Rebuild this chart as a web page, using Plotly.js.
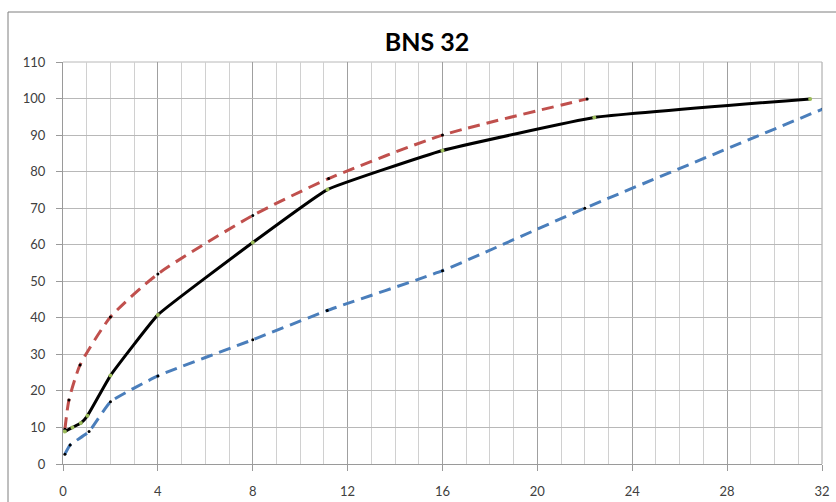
<!DOCTYPE html>
<html>
<head>
<meta charset="utf-8">
<script src="https://cdn.plot.ly/plotly-3.0.1.min.js"></script>
<style>
html,body{margin:0;padding:0;background:#fff;}
#chart{width:836px;height:502px;}
</style>
</head>
<body>
<div id="chart"></div>
<script>
// Black solid series
const blackX = [0.08, 0.4, 0.75, 1.03, 2.0, 4.0, 8.0, 11.15, 16.0, 22.4, 31.5];
const blackY = [8.9, 10.0, 11.2, 13.2, 24.2, 40.8, 60.6, 75.1, 85.8, 94.8, 99.9];
// Red dashed series
const redX = [0.08, 0.25, 0.72, 2.0, 4.0, 8.0, 11.2, 16.0, 22.1];
const redY = [9.5, 17.5, 27.1, 40.2, 52.0, 68.0, 78.1, 90.0, 99.9];
// Blue dashed series
const blueX = [0.08, 0.3, 1.1, 2.0, 4.0, 8.0, 11.14, 16.0, 22.0, 32.05];
const blueY = [2.7, 5.2, 8.9, 17.0, 24.1, 34.0, 42.0, 52.9, 70.0, 97.2];

const titleText = 'BNS 32';
const xTicks = [0, 4, 8, 12, 16, 20, 24, 28, 32];
const yTicks = [0, 10, 20, 30, 40, 50, 60, 70, 80, 90, 100, 110];

const font = 'Lato, "Open Sans", sans-serif';

const traces = [
  {x: redX, y: redY, mode: 'lines+markers', line: {color: '#C0504D', width: 3, dash: '12px,7px', shape: 'spline', smoothing: 0.6},
   marker: {color: '#000', size: 3}, hoverinfo: 'skip'},
  {x: blueX, y: blueY, mode: 'lines+markers', line: {color: '#4A7EBB', width: 3, dash: '12px,7px', shape: 'spline', smoothing: 0.4},
   marker: {color: '#000', size: 3}, hoverinfo: 'skip'},
  {x: blackX, y: blackY, mode: 'lines+markers', line: {color: '#000', width: 3, shape: 'spline', smoothing: 0.3},
   marker: {color: '#9BBB59', size: 4}, hoverinfo: 'skip'}
];

const layout = {
  width: 836, height: 502,
  margin: {l: 63, r: 14, t: 62, b: 38},
  paper_bgcolor: '#fff', plot_bgcolor: '#fff',
  showlegend: false,
  title: {text: '<b>' + titleText + '</b>', font: {family: font, size: 25, color: '#000'},
          x: 427 / 836, xanchor: 'center', y: 1 - 42 / 502, yanchor: 'middle'},
  xaxis: {
    range: [0, 32], tickvals: xTicks, ticktext: xTicks.map(String),
    showgrid: true, gridcolor: '#a0a0a0', gridwidth: 1,
    minor: {dtick: 1, tick0: 0, showgrid: true, gridcolor: '#d0d0d0', gridwidth: 1, ticks: ''},
    ticks: 'outside', ticklen: 6, tickcolor: '#9a9a9a',
    showline: true, linecolor: '#9a9a9a', linewidth: 1, mirror: false,
    zeroline: false, ticklabelstandoff: 9,
    tickfont: {family: font, size: 13, color: '#404040'}, fixedrange: true
  },
  yaxis: {
    range: [0, 110], tickvals: yTicks, ticktext: yTicks.map(String),
    showgrid: true, gridcolor: '#b8b8b8', gridwidth: 1,
    ticks: 'outside', ticklen: 6, tickcolor: '#9a9a9a',
    showline: true, linecolor: '#9a9a9a', linewidth: 1,
    zeroline: false, ticklabelstandoff: 8,
    tickfont: {family: font, size: 13, color: '#404040'}, fixedrange: true
  },
  shapes: [
    {type: 'line', xref: 'paper', yref: 'paper', x0: (8 - 63) / 759, x1: (8 - 63) / 759, y0: (464 - 12) / 402, y1: -0.2,
     line: {color: '#7f7f7f', width: 1}},
    {type: 'line', xref: 'paper', yref: 'paper', x0: (8 - 63) / 759, x1: 1.1, y0: (464 - 12) / 402, y1: (464 - 12) / 402,
     line: {color: '#7f7f7f', width: 1}},
    {type: 'line', xref: 'paper', yref: 'paper', x0: 1, x1: 1, y0: 0, y1: 1,
     line: {color: '#a0a0a0', width: 1}, layer: 'below'},
    {type: 'line', xref: 'paper', yref: 'paper', x0: 0, x1: 1, y0: 1, y1: 1,
     line: {color: '#b8b8b8', width: 1}, layer: 'below'}
  ]
};

Plotly.newPlot('chart', traces, layout, {displayModeBar: false, staticPlot: true});
</script>
</body>
</html>
